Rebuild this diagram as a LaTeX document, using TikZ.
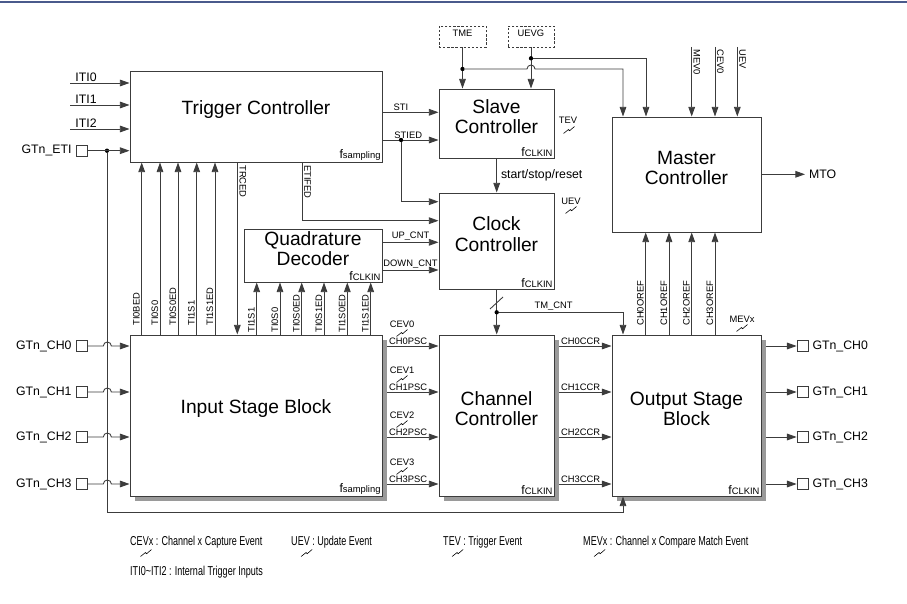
\documentclass[tikz,border=0pt]{standalone}
\usepackage{fontspec}
\setmainfont{Liberation Sans}
\newfontfamily\legendfont[FakeStretch=0.70]{Liberation Sans}
\usetikzlibrary{arrows.meta,fit,shadows}
\definecolor{ink}{HTML}{3C3C3C}
\definecolor{topline}{HTML}{4A5A8C}
\definecolor{shade}{HTML}{9A9A9A}

\newcommand{\fclk}{f{\fontsize{8}{9}\selectfont CLKIN}}
\newcommand{\fsmp}{f{\fontsize{8}{9}\selectfont sampling}}

\begin{document}
\begin{tikzpicture}[x=0.3mm, y=-0.3mm,
    blk/.style={draw=ink, fill=white, line width=0.8pt, inner sep=0pt,
                align=center, font=\fontsize{16.4}{17.5}\selectfont},
    shd/.style={drop shadow={shadow xshift=1.5mm, shadow yshift=-1.5mm,
                fill=shade, opacity=1}},
    dbox/.style={draw=ink, dashed, dash pattern=on 2pt off 1.5pt, fill=white,
                 inner sep=0pt, font=\fontsize{8}{9}\selectfont},
    pad/.style={draw=ink, fill=white, minimum size=3.3mm, inner sep=0pt,
                line width=0.6pt},
    dot/.style={circle, fill=black, inner sep=0pt, minimum size=1.3mm},
    lbl/.style={font=\fontsize{8}{9}\selectfont, inner sep=1pt},
    mid/.style={font=\fontsize{10.5}{12}\selectfont},
    clkf/.style={font=\fontsize{10.5}{12}\selectfont, inner sep=1.5pt,
                 anchor=south east},
    leg/.style={font=\legendfont\fontsize{11}{13}\selectfont, anchor=west,
                inner sep=0pt},
    wire/.style={draw=ink, line width=0.75pt},
    sig/.style={wire, -{Triangle[length=2.9mm,width=2mm]}},
    zap/.pic={\draw[black, line width=0.5pt]
              (-5.5,3.5) -- (-0.5,-0.5) -- (0.5,0.8) -- (5.5,-3.5);}]
  \useasboundingbox (0,0) rectangle (907,604);
  \draw[topline, line width=1.2pt] (0,2) -- (907,2);

  % blocks
  \node[blk, fit={(130,71) (382,162)}] (tc) {Trigger Controller};
  \node[blk, fit={(439,89) (554,158)}] (slv) {Slave\\Controller};
  \node[dbox, fit={(439,26) (486,47)}] (tme) {TME};
  \node[dbox, fit={(508,26) (554,47)}] (uevg) {UEVG};
  \node[blk, fit={(612,117) (761,232)}] (mst) {Master\\Controller};
  \node[blk, fit={(439,193) (554,289)}] (clk) {Clock\\Controller};
  \node[blk, fit={(244,229) (382,282)}] (qd) {Quadrature\\Decoder};
  \node[blk, shd, fit={(130,335) (382,496)}] (isb) {Input Stage Block};
  \node[blk, shd, fit={(439,335) (554,496)}] (chc) {Channel\\Controller};
  \node[blk, shd, fit={(612,335) (761,496)}] (osb) {Output Stage\\Block};
  \foreach \bx/\ff in {tc/\fsmp, isb/\fsmp, slv/\fclk, clk/\fclk, qd/\fclk,
                       chc/\fclk, osb/\fclk}
    \node[clkf] at (\bx.south east) {\ff};

  \coordinate (colA) at (623,0);
  \coordinate (colB) at (646,0);

  % trigger inputs
  \foreach \i/\yy in {0/83,1/105,2/129} {
    \coordinate (iti\i) at (70,\yy);
    \draw[sig] (iti\i) -- (tc.west |- iti\i)
      node[mid, pos=0.27, above, inner sep=1pt] {ITI\i};
  }
  \node[pad, label={[mid]left:GTn\_ETI}] (peti) at (81.5,150.7) {};
  \node[dot] (deti) at (107,150.7) {};
  \draw[sig] (peti.east) -- (tc.west |- peti);
  \coordinate (bus) at (107,512);
  \draw[sig] (deti) |- (colA |- bus) -- (osb.south -| colA);

  % channels
  \foreach \i/\yy in {0/346,1/392,2/437,3/484} {
    \coordinate (r\i) at (0,\yy);
    \node[pad, label={[mid]left:GTn\_CH\i}] (pl\i) at (81.5,\yy) {};
    \node[pad, label={[mid]right:GTn\_CH\i}] (pr\i) at (802.5,\yy) {};
    \draw[sig] (pl\i.east) -- ++(16,0)
      arc[start angle=180, end angle=0, radius=1.2mm] -- (isb.west |- r\i);
    \draw[sig] (isb.east |- r\i) ++(5,0) -- (chc.west |- r\i)
      node[lbl, pos=0, above right] {CH\i PSC};
    \draw[sig] (chc.east |- r\i) ++(5,0) -- (osb.west |- r\i)
      node[lbl, pos=0, above right] {CH\i CCR};
    \draw[sig] (osb.east |- r\i) ++(5,0) -- (pr\i.west);
    \node[lbl] (cev\i) at (402,\yy-22) {CEV\i};
    \pic at (402,\yy-13) {zap};
  }

  % input stage to trigger controller
  \foreach \xx/\lab in {141.7/TI0BED, 160/TI0S0, 178/TI0S0ED, 196.7/TI1S1,
                        215/TI1S1ED} {
    \coordinate (tx) at (\xx,0);
    \draw[sig] (isb.north -| tx) -- (tc.south -| tx);
    \node[lbl, rotate=90, anchor=south west] at (\xx-0.5,327) {\lab};
  }
  % input stage to quadrature decoder
  \foreach \xx/\lab in {256.7/TI1S1, 280/TI0S0, 301.7/TI0S0ED, 324/TI0S1ED,
                        347.3/TI1S0ED, 370.7/TI1S1ED} {
    \coordinate (tx) at (\xx,0);
    \draw[sig] (isb.north -| tx) -- (qd.south -| tx);
    \node[lbl, rotate=90, anchor=south west] at (\xx-0.5,334) {\lab};
  }

  \coordinate (ctr) at (237.3,0);
  \draw[sig] (tc.south -| ctr) -- (isb.north -| ctr);
  \node[lbl, rotate=-90, anchor=south west] at (238,164) {TRCED};
  \coordinate (cet) at (302.3,220.7);
  \draw[sig] (tc.south -| cet) |- (clk.west |- cet);
  \node[lbl, rotate=-90, anchor=south west] at (303,164) {ETIFED};

  % trigger controller to slave / clock
  \coordinate (ysti) at (0,112.3);
  \draw[sig] (tc.east |- ysti) -- (slv.west |- ysti)
    node[lbl, pos=0.33, above] {STI};
  \coordinate (ystd) at (0,140);
  \draw[sig] (tc.east |- ystd) -- (slv.west |- ystd)
    node[lbl, pos=0.46, above] {STIED};
  \node[dot] (dstd) at (401,140) {};
  \coordinate (ystd2) at (0,201.7);
  \draw[sig] (dstd) |- (clk.west |- ystd2);

  % TME / UEVG
  \draw[sig] (tme.south) -- (slv.north -| tme.south);
  \draw[sig] (uevg.south) -- (slv.north -| uevg.south);
  \node[dot] (dtme) at (462.5,69) {};
  \node[dot] (duev) at (531,58.3) {};
  \coordinate (hop) at (527,69);
  \draw[sig] (dtme) -- (hop) arc[start angle=180, end angle=0, radius=1.2mm]
    -| (mst.north -| colA);
  \draw[sig] (duev) -| (mst.north -| colB);

  % master controller
  \foreach \xx/\lab in {691.7/MEV0, 715/CEV0, 737.3/UEV} {
    \coordinate (tx) at (\xx,47);
    \draw[sig] (tx) -- (mst.north -| tx);
    \node[lbl, rotate=-90, anchor=south west] at (\xx+0.5,48) {\lab};
  }
  \coordinate (mto) at (805,174.3);
  \draw[sig] (mst.east |- mto) -- (mto);
  \node[mid, right] (lmto) at (mto) {MTO};
  \foreach \xx/\n in {645.7/0, 669/1, 691.7/2, 715/3} {
    \coordinate (tx) at (\xx,0);
    \draw[sig] (osb.north -| tx) -- (mst.south -| tx);
    \node[lbl, rotate=90, anchor=south west] at (\xx-0.5,327) {CH\n OREF};
  }

  % slave / clock / channel
  \coordinate (css) at (496.7,0);
  \draw[sig] (slv.south -| css) -- (clk.north -| css)
    node[mid, midway, right] {start/stop/reset};
  \coordinate (yup) at (0,242.3);
  \draw[sig] (qd.east |- yup) -- (clk.west |- yup)
    node[lbl, midway, above] {UP\_CNT};
  \coordinate (ydn) at (0,270);
  \draw[sig] (qd.east |- ydn) -- (clk.west |- ydn)
    node[lbl, midway, above] {DOWN\_CNT};
  \draw[sig] (clk.south -| css) -- (chc.north -| css);
  \draw[wire] (490,309) -- (503,297);
  \node[dot] (dtm) at (496.7,312.3) {};
  \draw[sig] (dtm) -| (osb.north -| colA)
    node[lbl, pos=0.22, above] {TM\_CNT};

  % events
  \node[lbl] (ltev) at (568,120) {TEV};
  \pic at (569,130) {zap};
  \node[lbl] (luev) at (571,201.7) {UEV};
  \pic at (571,210) {zap};
  \node[lbl] (lmev) at (742,319) {MEVx};
  \pic at (742,328) {zap};

  % legend
  \node[leg] (k1) at (130,541.7) {CEVx : Channel x Capture Event};
  \node[leg] (k2) at (291,541.7) {UEV : Update Event};
  \node[leg] (k3) at (443,541.7) {TEV : Trigger Event};
  \node[leg] (k4) at (583,541.7) {MEVx : Channel x Compare Match Event};
  \node[leg] (k5) at (130,571.7) {ITI0\textasciitilde ITI2 : Internal Trigger Inputs};
  \foreach \xx in {146,306.6,457.6,599.6}
    \pic at (\xx,553) {zap};
\end{tikzpicture}
\end{document}
